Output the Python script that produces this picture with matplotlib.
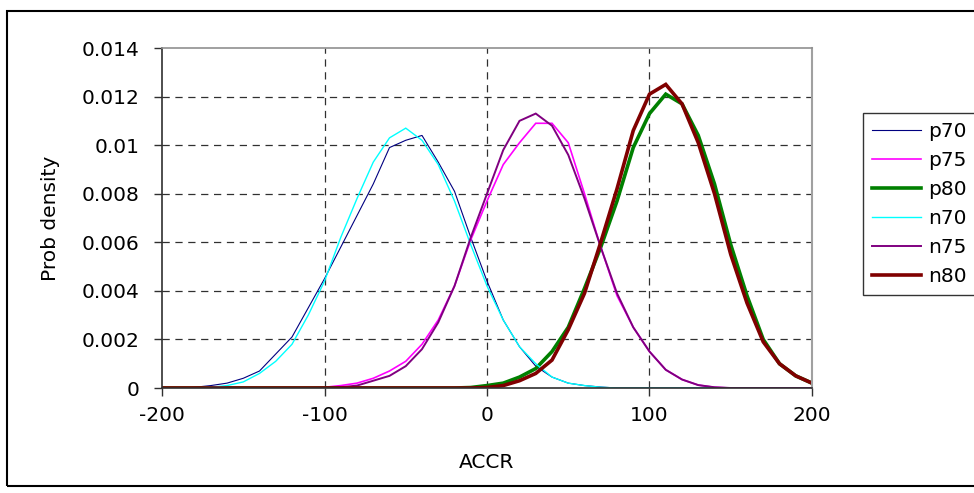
import matplotlib
matplotlib.use("Agg")
import matplotlib.pyplot as plt
from matplotlib.patches import Rectangle

plt.rcParams['font.family'] = ['DejaVu Sans']

accr = list(range(-200, 201, 10))

p70 = [0, 0, 0.00003, 0.0001, 0.0002, 0.0004, 0.0007, 0.0014, 0.0021, 0.0033,
       0.0045, 0.0058, 0.0071, 0.0084, 0.0099, 0.0102, 0.0104, 0.0093, 0.0081, 0.0062,
       0.0044, 0.0028, 0.0017, 0.0009, 0.00045, 0.0002, 0.0001, 0.00004, 0, 0,
       0, 0, 0, 0, 0, 0, 0, 0, 0, 0, 0]
p75 = [0, 0, 0, 0, 0, 0, 0, 0, 0, 0,
       0.00003, 0.0001, 0.0002, 0.0004, 0.0007, 0.0011, 0.0018, 0.0028, 0.0042, 0.0061,
       0.0077, 0.0092, 0.0101, 0.0109, 0.0109, 0.0101, 0.0080, 0.0058, 0.0038, 0.0025,
       0.0015, 0.00075, 0.00035, 0.00012, 0.00003, 0, 0, 0, 0, 0, 0]
p80 = [0, 0, 0, 0, 0, 0, 0, 0, 0, 0,
       0, 0, 0, 0, 0, 0, 0, 0, 0, 0.00002,
       0.0001, 0.0002, 0.00045, 0.0008, 0.0015, 0.0025, 0.0041, 0.0058, 0.0077, 0.0099,
       0.0113, 0.0121, 0.0117, 0.0104, 0.0084, 0.0059, 0.0038, 0.0020, 0.0010, 0.0005, 0.0002]
n70 = [0, 0, 0, 0.00003, 0.0001, 0.00025, 0.0006, 0.0011, 0.0018, 0.0030,
       0.0044, 0.0062, 0.0078, 0.0093, 0.0103, 0.0107, 0.0102, 0.0092, 0.0077, 0.0059,
       0.0042, 0.0028, 0.0017, 0.0010, 0.00045, 0.0002, 0.0001, 0.00003, 0, 0,
       0, 0, 0, 0, 0, 0, 0, 0, 0, 0, 0]
n75 = [0, 0, 0, 0, 0, 0, 0, 0, 0, 0,
       0, 0.00003, 0.0001, 0.0003, 0.0005, 0.0009, 0.0016, 0.0027, 0.0042, 0.0062,
       0.0080, 0.0098, 0.0110, 0.0113, 0.0108, 0.0096, 0.0078, 0.0058, 0.0039, 0.0025,
       0.0015, 0.00075, 0.00035, 0.00012, 0.00003, 0, 0, 0, 0, 0, 0]
n80 = [0, 0, 0, 0, 0, 0, 0, 0, 0, 0,
       0, 0, 0, 0, 0, 0, 0, 0, 0, 0,
       0.00002, 0.0001, 0.0003, 0.0006, 0.00115, 0.0024, 0.0039, 0.0060, 0.0082, 0.0106,
       0.0121, 0.0125, 0.0117, 0.0101, 0.0080, 0.0055, 0.0035, 0.0019, 0.0010, 0.0005, 0.0002]

series = [("p70", p70, "#000080", 0.8), ("p75", p75, "#FF00FF", 1.2),
          ("p80", p80, "#008000", 2.6), ("n70", n70, "#00FFFF", 1.0),
          ("n75", n75, "#800080", 1.4), ("n80", n80, "#800000", 2.6)]

xticks = [-200, -100, 0, 100, 200]
yticks = [0, 0.002, 0.004, 0.006, 0.008, 0.01, 0.012, 0.014]
ytick_labels = ["0", "0.002", "0.004", "0.006", "0.008", "0.01", "0.012", "0.014"]

FS = 14.5
W, H = 974, 493
fig = plt.figure(figsize=(W / 100, H / 100), dpi=100)
fig.patches.append(Rectangle((7 / W, 1 - 486 / H), (990 - 7) / W, (486 - 11) / H,
                             transform=fig.transFigure, fill=False, edgecolor='black',
                             linewidth=1.5, zorder=0))

ax = fig.add_axes([162 / W, 1 - 388 / H, (812 - 162) / W, (388 - 48) / H])
for name, vals, col, lw in series:
    ax.plot(accr, vals, color=col, linewidth=lw, label=name, solid_joinstyle='miter')

ax.set_xlim(-200, 200)
ax.set_ylim(0, 0.014)
ax.set_xticks(xticks)
ax.set_xticklabels([str(v) for v in xticks])
ax.set_yticks(yticks)
ax.set_yticklabels(ytick_labels)
ax.tick_params(axis='both', labelsize=FS, length=6, width=1, color='#303030', direction='out')
ax.tick_params(axis='x', pad=7)
ax.tick_params(axis='y', pad=10)

for y in yticks[1:-1]:
    ax.axhline(y, color='#303030', linewidth=0.9, linestyle=(0, (5.8, 4.5)), zorder=0.5)
for x in xticks[1:-1]:
    ax.axvline(x, color='#303030', linewidth=0.9, linestyle=(0, (5.8, 4.5)), zorder=0.5)

ax.spines['top'].set_color('#909090')
ax.spines['right'].set_color('#a0a0a0')
ax.spines['left'].set_color('#303030')
ax.spines['bottom'].set_color('#303030')
ax.spines['left'].set_linewidth(1.2)
ax.spines['bottom'].set_linewidth(1.2)
ax.spines['top'].set_linewidth(1.2)
ax.spines['right'].set_linewidth(1.5)

ax.set_xlabel("ACCR", fontsize=FS, labelpad=20)
ax.set_ylabel("Prob density", fontsize=FS, labelpad=16)

leg = ax.legend(loc='upper left', bbox_to_anchor=(863 / W, 1 - 113 / H),
                bbox_transform=fig.transFigure, borderaxespad=0, fontsize=FS,
                frameon=True, fancybox=False, handlelength=2.45, handletextpad=0.35,
                labelspacing=0.5, borderpad=0.45)
leg.get_frame().set_edgecolor('black')
leg.get_frame().set_linewidth(1.0)

fig.savefig("out.png", dpi=100)
